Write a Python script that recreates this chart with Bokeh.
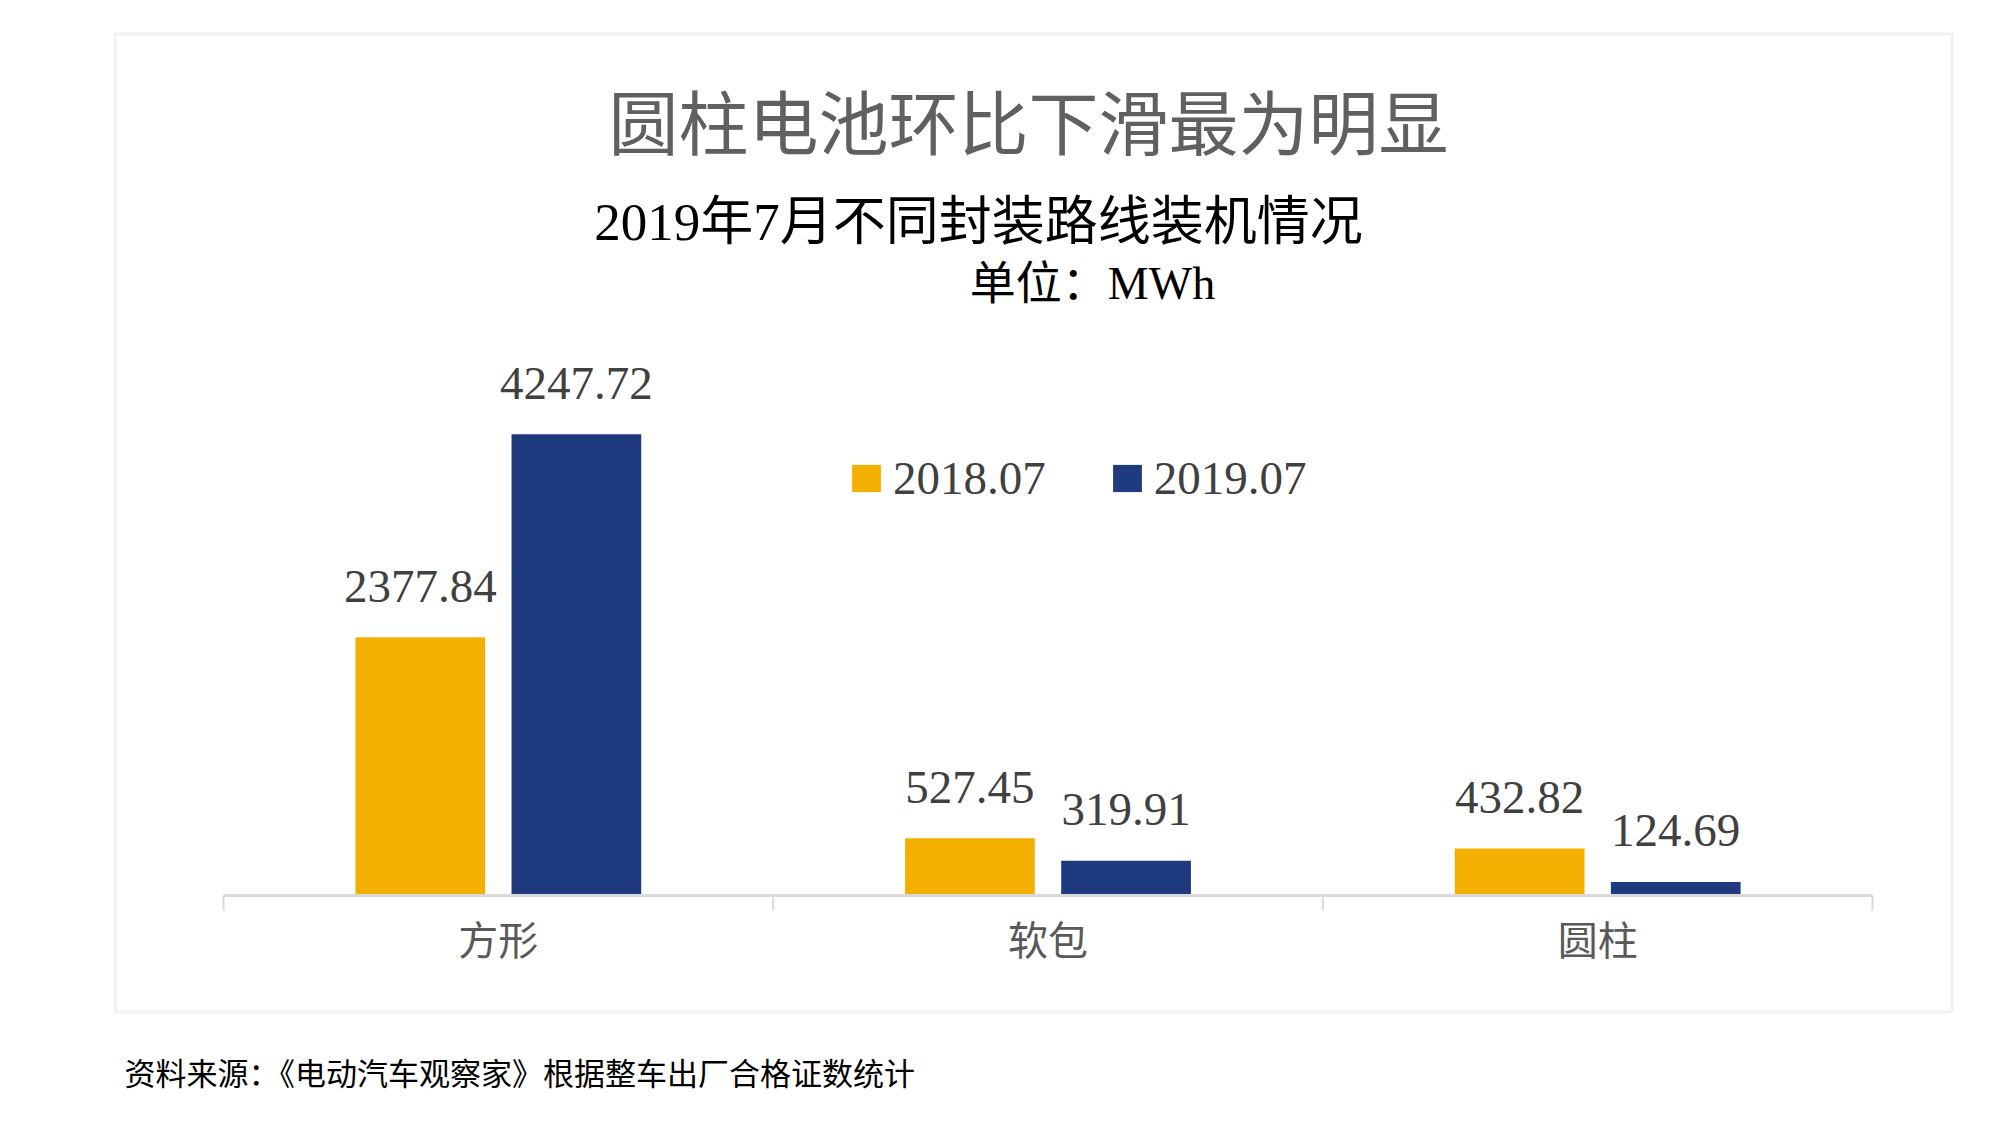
import numpy as np
from bokeh.plotting import figure
from bokeh.models import Range1d, Label, BoxAnnotation, ColumnDataSource
from bokeh.core.properties import value
from bokeh.embed import file_html
from bokeh.resources import INLINE

# ---------------- data ----------------
categories = ["方形", "软包", "圆柱"]
series_names = ["2018.07", "2019.07"]
values_2018 = [2377.84, 527.45, 432.82]
values_2019 = [4247.72, 319.91, 124.69]
title_text = "圆柱电池环比下滑最为明显"
subtitle_text = "2019年7月不同封装路线装机情况"
unit_text = "单位：MWh"
source_text = "资料来源：《电动汽车观察家》根据整车出厂合格证数统计"

# ---------------- style / layout ----------------
YELLOW = "#F3B000"
BLUE = "#203A80"
GRAY_LINE = "#D9D9D9"
BOX_LINE = "#D0D0D0"
SERIF_STACK = "'Liberation Serif', 'Noto Sans CJK SC'"
CJK = "Noto Sans CJK SC"

W, H = 1995, 1120
AX_LEFT, AX_RIGHT, AX_Y = 223, 1872, 895          # category band & baseline, canvas px
n = len(categories)
CAT_PX = (AX_RIGHT - AX_LEFT) / n                   # px per category
PX_PER_UNIT = 0.1086                                # px per MWh

p = figure(width=W, height=H,
           x_range=Range1d(-AX_LEFT / CAT_PX, (W - AX_LEFT) / CAT_PX),
           y_range=Range1d(-(H - AX_Y) / PX_PER_UNIT, AX_Y / PX_PER_UNIT),
           output_backend="svg", toolbar_location=None,
           x_axis_location=None, y_axis_location=None,
           min_border=0)
p.outline_line_color = None
p.background_fill_color = "white"
p.border_fill_color = "white"
p.xgrid.visible = False
p.ygrid.visible = False

centers = np.arange(n) + 0.5
OFF = 0.142
BW = 0.236
src = ColumnDataSource(dict(
    x18=centers - OFF, x19=centers + OFF,
    v18=values_2018, v19=values_2019,
    l18=[f"{v:.2f}" for v in values_2018],
    l19=[f"{v:.2f}" for v in values_2019],
))

p.vbar(x="x18", top="v18", bottom=0, width=BW, source=src,
       fill_color=YELLOW, line_color=None, legend_label=series_names[0])
p.vbar(x="x19", top="v19", bottom=0, width=BW, source=src,
       fill_color=BLUE, line_color=None, legend_label=series_names[1])

for xc, col, lab in (("x18", "v18", "l18"), ("x19", "v19", "l19")):
    p.text(x=xc, y=col, text=lab, source=src,
           text_font=value("Liberation Serif"), text_font_size="47px",
           text_color="#404040", text_align="center", text_baseline="middle",
           y_offset=-51)

# category axis: baseline, boundary ticks, centred labels
bounds = np.arange(n + 1)
TICK = 15 / PX_PER_UNIT
p.segment(x0=[0], y0=[0], x1=[n], y1=[0], line_color=GRAY_LINE, line_width=3)
p.segment(x0=bounds, y0=np.zeros(n + 1), x1=bounds, y1=np.full(n + 1, -TICK),
          line_color=GRAY_LINE, line_width=2)
p.text(x=centers, y=np.zeros(n), text=categories,
       text_font=value(CJK), text_font_size="40px", text_color="#595959",
       text_align="center", text_baseline="middle", y_offset=42)

# legend
lg = p.legend[0]
lg.orientation = "horizontal"
lg.location = (848, 615)
lg.glyph_width = 36
lg.glyph_height = 34
lg.label_standoff = 9
lg.spacing = 63
lg.padding = 0
lg.margin = 0
lg.border_line_color = None
lg.background_fill_alpha = 0
lg.label_text_font = "Liberation Serif"
lg.label_text_font_size = "47px"
lg.label_text_color = "#404040"

# outer box and texts (screen units; frame == canvas)
def sy(yc):
    return H - yc

p.add_layout(BoxAnnotation(left=114.5, right=1951.5, top=sy(33.5), bottom=sy(1011.5),
                           left_units="screen", right_units="screen",
                           top_units="screen", bottom_units="screen",
                           fill_alpha=0, line_color=BOX_LINE, line_width=3))

p.add_layout(Label(x=1028, y=sy(119), x_units="screen", y_units="screen",
                   text=title_text, text_font=CJK, text_font_size="70px",
                   text_color="#606060", text_align="center", text_baseline="middle"))
p.add_layout(Label(x=978, y=sy(221), x_units="screen", y_units="screen",
                   text=subtitle_text, text_font=SERIF_STACK, text_font_size="53px",
                   text_color="#000000", text_align="center", text_baseline="middle"))
p.add_layout(Label(x=1092, y=sy(283), x_units="screen", y_units="screen",
                   text=unit_text, text_font=SERIF_STACK, text_font_size="46px",
                   text_color="#000000", text_align="center", text_baseline="middle"))
p.add_layout(Label(x=124, y=sy(1071), x_units="screen", y_units="screen",
                   text=source_text, text_font=CJK, text_font_size="31px",
                   text_color="#000000", text_align="left", text_baseline="middle"))

open("out.html", "w").write(file_html(p, INLINE))
